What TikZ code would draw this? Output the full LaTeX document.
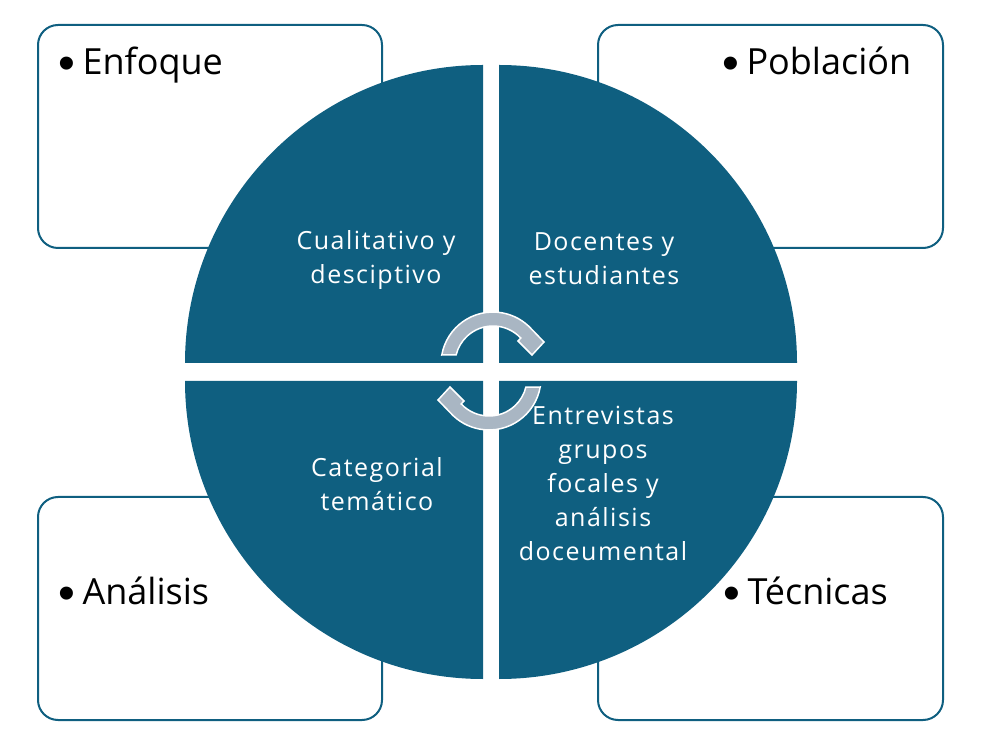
\documentclass[tikz,border=0pt]{standalone}
\usepackage{fontspec}
\setmainfont{Open Sans}
\newfontfamily\quadfont[LetterSpace=6]{Open Sans}
\newfontfamily\bulletfont{Liberation Sans}
\usepackage{tikz}
\definecolor{quadblue}{HTML}{0F5F80}
\definecolor{cyclegray}{HTML}{A9B6C3}
\newcommand{\quadradius}{298pt}
\newcommand{\bulletitem}[1]{\raisebox{-5pt}{\bulletfont\fontsize{48}{48}\selectfont •}\hspace{7pt}#1}
\newcommand{\cyclearrow}{(-51.2,9) arc[start angle=170, end angle=42, radius=52pt] -- (51,22) -- (39,9) -- (25,23)
    -- (43:38) arc[start angle=43, end angle=166, radius=38pt] -- cycle}
\tikzstyle{corner box}=[draw=quadblue, line width=2pt, fill=white, rounded corners=20pt, inner sep=0]
\tikzstyle{quadrant}=[fill=quadblue]
\tikzstyle{cycle arrow}=[fill=cyclegray, draw=white, line width=1.5pt, line join=miter]
\tikzstyle{bullet label}=[anchor=base west, inner sep=0, font=\fontsize{36}{40}\selectfont]
\tikzstyle{quad label}=[text=white, align=center, inner sep=0, font=\quadfont\fontsize{25}{34}\selectfont]
\begin{document}
\begin{tikzpicture}[x=1pt, y=1pt]
    \useasboundingbox (0,0) rectangle (982,742);
    % Corner boxes, partly hidden behind the circle.
    \node[corner box, minimum width=344pt, minimum height=223pt] (enfoquebox) at (210,605.5) {};
    \node[corner box, minimum width=345pt, minimum height=223pt] (poblacionbox) at (770.5,605.5) {};
    \node[corner box, minimum width=344pt, minimum height=223pt] (analisisbox) at (210,133.5) {};
    \node[corner box, minimum width=345pt, minimum height=223pt] (tecnicasbox) at (770.5,133.5) {};
    % Four quarters of the circle.
    \fill[quadrant] (483,379) -- ++(-\quadradius,0) arc[start angle=180, end angle=90, radius=\quadradius] -- cycle;
    \fill[quadrant] (499,379) -- ++(\quadradius,0) arc[start angle=0, end angle=90, radius=\quadradius] -- cycle;
    \fill[quadrant] (483,361) -- ++(-\quadradius,0) arc[start angle=180, end angle=270, radius=\quadradius] -- cycle;
    \fill[quadrant] (499,361) -- ++(\quadradius,0) arc[start angle=0, end angle=-90, radius=\quadradius] -- cycle;
    % Cycle arrows.
    \begin{scope}[shift={(493,378)}]
        \draw[cycle arrow] \cyclearrow;
    \end{scope}
    \begin{scope}[rotate around={180:(491,371)}, shift={(493,378)}]
        \draw[cycle arrow] \cyclearrow;
    \end{scope}
    \node[bullet label] (enfoque) at (58.5,667) {\bulletitem{Enfoque}};
    \node[bullet label] (poblacion) at (722.5,667) {\bulletitem{Población}};
    \node[bullet label] (analisis) at (58.5,138) {\bulletitem{Análisis}};
    \node[bullet label] (tecnicas) at (723.5,138) {\bulletitem{Técnicas}};
    \node[quad label] (enfoquetext) at (376,482) {Cualitativo y\\desciptivo};
    \node[quad label] (poblaciontext) at (604,483) {Docentes y\\estudiantes};
    \node[quad label] (analisistext) at (377,258) {Categorial\\temático};
    \node[quad label] (tecnicastext) at (603,259) {Entrevistas\\grupos\\focales y\\análisis\\doceumental};
\end{tikzpicture}
\end{document}
